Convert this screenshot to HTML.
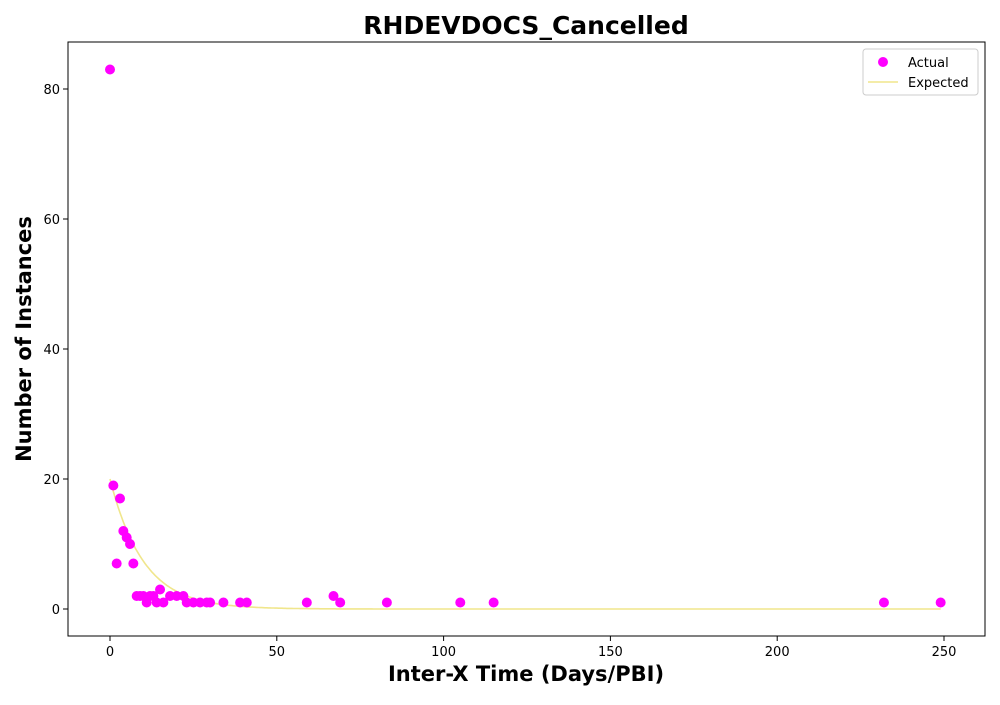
<!DOCTYPE html>
<html><head><meta charset="utf-8"><style>body{margin:0;background:#fff}svg{font-family:"DejaVu Sans","Liberation Sans",sans-serif}</style></head>
<body>
<svg id="c" width="1000" height="700"></svg>
<script>
const actualX=[0,1,2,3,4,5,6,7,8,9,10,11,12,13,14,15,16,18,20,22,23,25,27,29,30,34,39,41,59,67,69,83,105,115,232,249];
const actualY=[83,19,7,17,12,11,10,7,2,2,2,1,2,2,1,3,1,2,2,2,1,1,1,1,1,1,1,1,1,2,1,1,1,1,1,1];
const expectedAmp=20, expectedRate=0.1;
const xTicks=[0,50,100,150,200,250];
const yTicks=[0,20,40,60,80];
const L=68,R=985,T=42,B=636;
const sx=v=>110+v*(944-110)/250, sy=v=>609-v*(609-89)/80;
const s=document.getElementById('c');const NS='http://www.w3.org/2000/svg';
function mk(t,a,txt){const e=document.createElementNS(NS,t);for(const k in a)e.setAttribute(k,a[k]);if(txt!=null)e.textContent=txt;s.appendChild(e);return e;}
let e;
e=mk('text',{x:526,y:34,'text-anchor':'middle','font-size':25,'font-weight':'bold'},'RHDEVDOCS_Cancelled');


xTicks.forEach(v=>{e=mk('line',{x1:sx(v),x2:sx(v),y1:B,y2:B+5,stroke:'#000'});


e=mk('text',{x:sx(v),y:B+20,'text-anchor':'middle','font-size':13},v);

});
yTicks.forEach(v=>{e=mk('line',{x1:L-5,x2:L,y1:sy(v),y2:sy(v),stroke:'#000'});


e=mk('text',{x:L-8,y:sy(v)+5,'text-anchor':'end','font-size':13},v);

});
e=mk('text',{x:526,y:681,'text-anchor':'middle','font-size':21,'font-weight':'bold'},'Inter-X Time (Days/PBI)');


e=mk('text',{x:31,y:339,'text-anchor':'middle','font-size':21,'font-weight':'bold',transform:'rotate(-90 31 339)'},'Number of Instances');


let d='';for(let x=0;x<=249;x+=0.5){d+=(x?'L':'M')+sx(x).toFixed(1)+','+sy(expectedAmp*Math.exp(-expectedRate*x)).toFixed(1);}
e=mk('path',{d:d,fill:'none',stroke:'#f0e68c','stroke-width':1.6});


actualX.forEach((x,i)=>{e=mk('circle',{cx:sx(x),cy:sy(actualY[i]),r:5,fill:'#ff00ff'});

});
e=mk('rect',{x:L,y:T,width:R-L,height:B-T,fill:'none',stroke:'#000','stroke-width':1});


e=mk('rect',{x:863,y:49,width:115,height:46,rx:3,fill:'#fff',stroke:'#ccc'});


e=mk('circle',{cx:883,cy:62,r:5,fill:'#ff00ff'});


e=mk('text',{x:908,y:67,'font-size':13},'Actual');


e=mk('line',{x1:868,x2:898,y1:82,y2:82,stroke:'#f0e68c','stroke-width':1.6});


e=mk('text',{x:908,y:87,'font-size':13},'Expected');


</script>
</body></html>
